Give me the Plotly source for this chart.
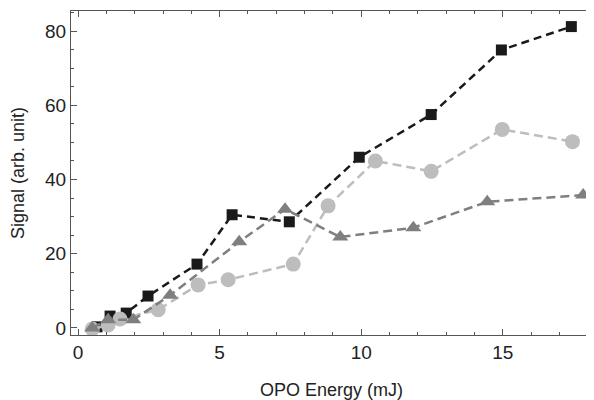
import plotly.graph_objects as go

# Black squares
sq_x = [0.67, 1.13, 1.70, 2.47, 4.20, 5.44, 7.46, 9.93, 12.47, 14.95, 17.42]
sq_y = [0.3, 3.2, 4.0, 8.6, 17.2, 30.5, 28.6, 46.0, 57.5, 74.9, 81.2]

# Light gray circles
ci_x = [0.50, 1.06, 1.48, 2.83, 4.24, 5.30, 7.60, 8.83, 10.50, 12.47, 14.98, 17.46]
ci_y = [-0.3, 0.8, 2.4, 4.9, 11.6, 13.0, 17.2, 32.9, 45.0, 42.2, 53.5, 50.2]

# Mid gray triangles
tr_x = [0.50, 1.06, 1.95, 3.25, 5.69, 7.31, 9.26, 11.84, 14.45, 17.84]
tr_y = [0.0, 2.2, 2.2, 8.8, 23.2, 32.0, 24.5, 27.0, 34.0, 35.8]

x_ticks = [0, 5, 10, 15]
y_ticks = [0, 20, 40, 60, 80]

FONT = "Liberation Sans, Arial, sans-serif"

fig = go.Figure()
fig.add_trace(go.Scatter(x=sq_x, y=sq_y, mode="lines+markers",
                         line=dict(color="#1a1a1a", width=2.5, dash="8px,5px"),
                         marker=dict(symbol="square", size=11, color="#1a1a1a")))
fig.add_trace(go.Scatter(x=ci_x, y=ci_y, mode="lines+markers",
                         line=dict(color="#bdbdbd", width=2.5, dash="9px,5px"),
                         marker=dict(symbol="circle", size=15, color="#bdbdbd")))
fig.add_trace(go.Scatter(x=tr_x, y=tr_y, mode="lines+markers",
                         line=dict(color="#7f7f7f", width=2.5, dash="9px,5px"),
                         marker=dict(symbol="triangle-up", size=14, color="#7f7f7f")))

axis_common = dict(showgrid=False, zeroline=False, showline=True, linecolor="#555555",
                   linewidth=1, mirror="allticks", ticks="inside", ticklen=6,
                   tickcolor="#555555", automargin=False,
                   tickfont=dict(family=FONT, size=19, color="#222"))

# the page body adds an 8px offset; figure is sized to fill the rest of the window
fig.update_layout(
    width=586, height=392,
    margin=dict(l=63, r=2, t=3, b=65),
    plot_bgcolor="white", paper_bgcolor="white",
    showlegend=False,
    xaxis=dict(range=[-0.25, 18.15], tickvals=x_ticks,
               minor=dict(dtick=1, ticks="inside", ticklen=3, tickcolor="#555555"),
               title=dict(text="OPO Energy (mJ)", font=dict(family=FONT, size=18, color="#222"), standoff=22),
               **axis_common),
    yaxis=dict(range=[-1.9, 85.4], tickvals=y_ticks,
               minor=dict(dtick=5, ticks="inside", ticklen=3, tickcolor="#555555"),
               title=dict(text="Signal (arb. unit)", font=dict(family=FONT, size=18, color="#222"), standoff=16),
               **axis_common),
)

fig.write_html("out.html")
